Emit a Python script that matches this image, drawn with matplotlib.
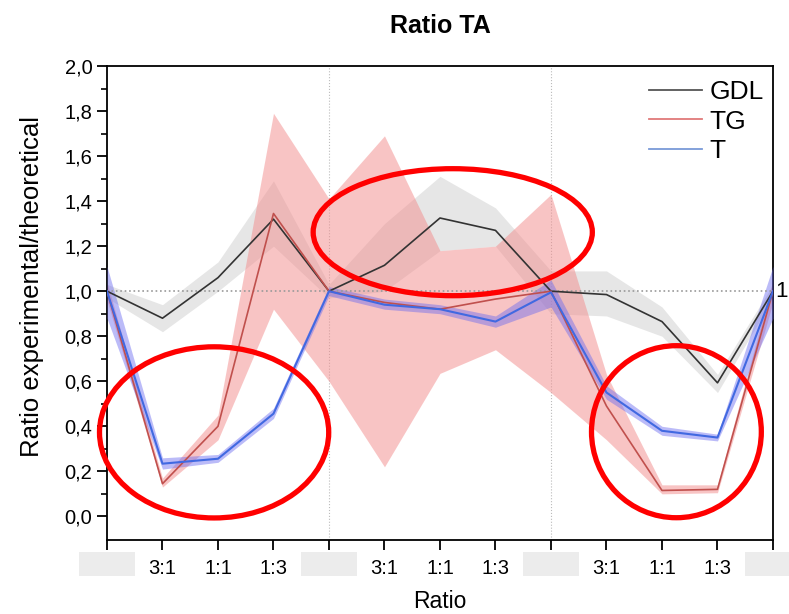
import numpy as np
import matplotlib
matplotlib.use("Agg")
import matplotlib.pyplot as plt
import matplotlib.transforms as mtransforms
from matplotlib.patches import Ellipse, Rectangle
from matplotlib.lines import Line2D

plt.rcParams['font.family'] = ['Liberation Sans', 'DejaVu Sans']

# data
pos = np.arange(13)
tick_labels = ['', '3:1', '1:1', '1:3', '', '3:1', '1:1', '1:3', '', '3:1', '1:1', '1:3', '']
hidden_labels = [0, 4, 8, 12]

gdl = [1.0, 0.88, 1.06, 1.32, 1.0, 1.115, 1.325, 1.27, 1.0, 0.985, 0.865, 0.593, 1.0]
gdl_lo = [0.97, 0.82, 1.00, 1.20, 0.97, 1.00, 1.18, 1.20, 0.90, 0.89, 0.80, 0.55, 0.97]
gdl_hi = [1.03, 0.94, 1.13, 1.49, 1.03, 1.30, 1.51, 1.37, 1.09, 1.09, 0.93, 0.63, 1.03]

tg = [1.0, 0.145, 0.40, 1.345, 1.0, 0.95, 0.92, 0.965, 1.0, 0.49, 0.115, 0.12, 1.0]
tg_lo = [0.96, 0.13, 0.34, 0.92, 0.60, 0.22, 0.635, 0.74, 0.55, 0.34, 0.10, 0.105, 0.95]
tg_hi = [1.04, 0.17, 0.45, 1.79, 1.41, 1.69, 1.18, 1.20, 1.43, 0.63, 0.14, 0.14, 1.05]

t = [1.0, 0.234, 0.256, 0.456, 1.0, 0.94, 0.92, 0.865, 0.995, 0.55, 0.38, 0.35, 1.0]
t_lo = [0.88, 0.21, 0.24, 0.435, 0.98, 0.92, 0.90, 0.84, 0.93, 0.52, 0.36, 0.335, 0.88]
t_hi = [1.11, 0.26, 0.275, 0.48, 1.02, 0.965, 0.94, 0.89, 1.05, 0.58, 0.40, 0.365, 1.11]

# highlighted regions (center x, center y, width, height) in data units
circles = [(1.93, 0.373, 4.13, 0.76), (6.23, 1.262, 5.03, 0.564), (10.26, 0.376, 3.06, 0.764)]

fig = plt.figure(figsize=(7.89, 6.14), dpi=100)
ax = fig.add_axes([0.1356, 0.1205, 0.8441, 0.772])

ax.fill_between(pos, gdl_lo, gdl_hi, color='#c8c8c8', alpha=0.45, lw=0, zorder=1)
ax.fill_between(pos, tg_lo, tg_hi, color='#f28b8b', alpha=0.5, lw=0, zorder=2)
ax.fill_between(pos, t_lo, t_hi, color='#6a6af0', alpha=0.45, lw=0, zorder=3)

ax.axhline(1.0, color='#999999', ls=':', lw=1.2, zorder=4)
for xv in (4, 8):
    ax.axvline(xv, color='#bbbbbb', ls=':', lw=0.8, zorder=0)

ax.plot(pos, gdl, color='#333333', lw=1.2, zorder=5)
ax.plot(pos, tg, color='#c0504d', lw=1.2, zorder=5)
ax.plot(pos, t, color='#4169e1', lw=1.5, zorder=6)

for cx, cy, w, h in circles:
    ax.add_patch(Ellipse((cx, cy), w, h, fill=False, edgecolor='#ff0000',
                         lw=3.8, clip_on=False, zorder=10))

ax.set_xlim(0, 12)
ax.set_ylim(-0.105, 2.0)
ax.set_xticks(pos)
ax.set_xticklabels(tick_labels, fontsize=14.5)
yt = np.arange(0, 2.01, 0.2)
ax.set_yticks(yt)
ax.set_yticklabels([('%.1f' % v).replace('.', ',') for v in yt], fontsize=14.5)
ax.set_yticks(np.arange(0.1, 2.0, 0.2), minor=True)
ax.tick_params(axis='both', direction='out', length=7, width=1.3)
ax.tick_params(axis='y', which='minor', direction='out', length=4, width=1.2)
ax.tick_params(axis='x', pad=7)
for s in ax.spines.values():
    s.set_linewidth(1.3)

# grey boxes hiding some category labels
trans = mtransforms.blended_transform_factory(ax.transData, ax.transAxes)
for i in hidden_labels:
    ax.add_patch(Rectangle((pos[i] - 0.5, -0.076), 1.0, 0.05, transform=trans,
                           facecolor='#ececec', edgecolor='none', clip_on=False))

trans_r = mtransforms.blended_transform_factory(ax.transAxes, ax.transData)
ax.text(1.003, 1.0, '1', transform=trans_r, fontsize=16, va='center', ha='left')

ax.set_title('Ratio TA', fontsize=18, fontweight='bold', pad=24)
ax.set_xlabel('Ratio', fontsize=16.5, labelpad=8)
ax.set_ylabel('Ratio experimental/theoretical', fontsize=18.5)
ax.yaxis.set_label_coords(-0.095, 0.535)

handles = [Line2D([], [], color='#555555', lw=1.3),
           Line2D([], [], color='#e07a7a', lw=1.3),
           Line2D([], [], color='#7a9ad8', lw=1.3)]
ax.legend(handles, ['GDL', 'TG', 'T'], loc='upper right', bbox_to_anchor=(1.022, 1.02),
          frameon=False, fontsize=19, handlelength=2.0, handletextpad=0.3,
          labelspacing=0.2)

plt.savefig('out.png', dpi=100)
